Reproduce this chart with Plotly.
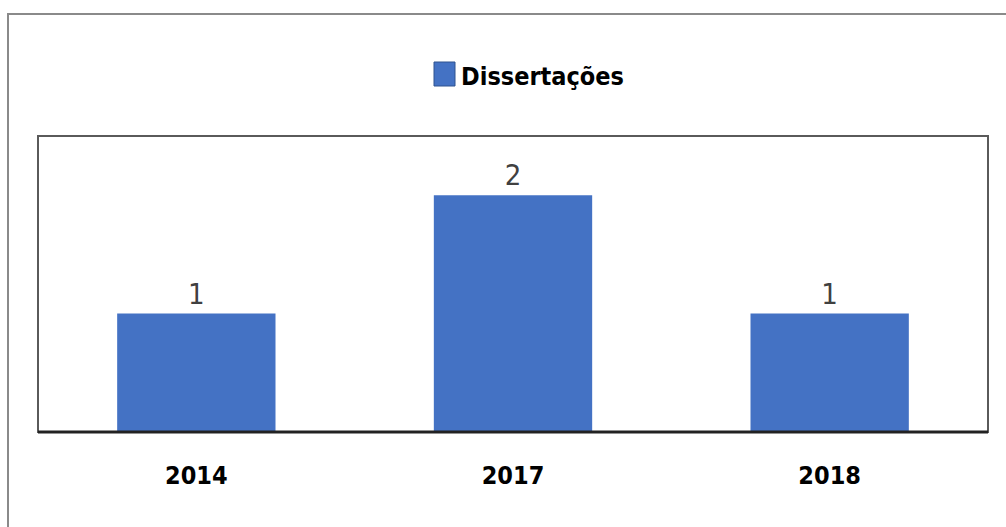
import plotly.graph_objects as go

categories = ["2014", "2017", "2018"]
values = [1, 2, 1]
series_name = "Dissertações"

L, R, T, B = 38, 18, 136, 95
W, H = 1006, 527
pw, ph = W - L - R, H - T - B

def px(x):
    return (x - L) / pw

def py(y):
    return (H - B - y) / ph

FONT = "DejaVu Sans Condensed, DejaVu Sans, sans-serif"

fig = go.Figure()
fig.add_trace(go.Bar(
    x=categories, y=values, name=series_name,
    marker=dict(color="#4472C4", line=dict(width=0)),
    text=[str(v) for v in values], textposition="outside",
    textfont=dict(family=FONT, size=29, color="#404040"),
    cliponaxis=False, showlegend=False,
))

# legend drawn as swatch + label
fig.add_shape(type="rect", xref="paper", yref="paper", x0=px(434), x1=px(455), y0=py(86), y1=py(62),
              fillcolor="#4472C4", line=dict(color="#2F528F", width=1))
fig.add_annotation(text=series_name, xref="paper", yref="paper", x=px(459), y=py(76),
                   xanchor="left", yanchor="middle", showarrow=False,
                   font=dict(family=FONT, size=25, color="black", weight="bold"))

fig.update_layout(
    width=W, height=H,
    margin=dict(l=L, r=R, t=T, b=B, pad=0),
    paper_bgcolor="white", plot_bgcolor="white",
    bargap=0.5,
    showlegend=False,
    xaxis=dict(showgrid=False, showline=False, ticks="", ticklabelstandoff=26,
               tickfont=dict(family=FONT, size=25, color="black", weight="bold")),
    yaxis=dict(range=[0, 2.5], showgrid=False, showticklabels=False, zeroline=False, showline=False, ticks=""),
)

# inner plot border
fig.add_shape(type="rect", xref="paper", yref="paper", x0=0, x1=1, y0=0, y1=1,
              line=dict(color="#5a5a5a", width=2), layer="above")
# baseline
fig.add_shape(type="line", xref="paper", yref="paper", x0=0, x1=1, y0=0, y1=0,
              line=dict(color="#222222", width=3), layer="above")
# outer chart border
fig.add_shape(type="rect", xref="paper", yref="paper", x0=px(8), x1=px(1012), y0=py(532), y1=py(14),
              line=dict(color="#8a8a8a", width=2), layer="above")

fig.write_html("out.html")
